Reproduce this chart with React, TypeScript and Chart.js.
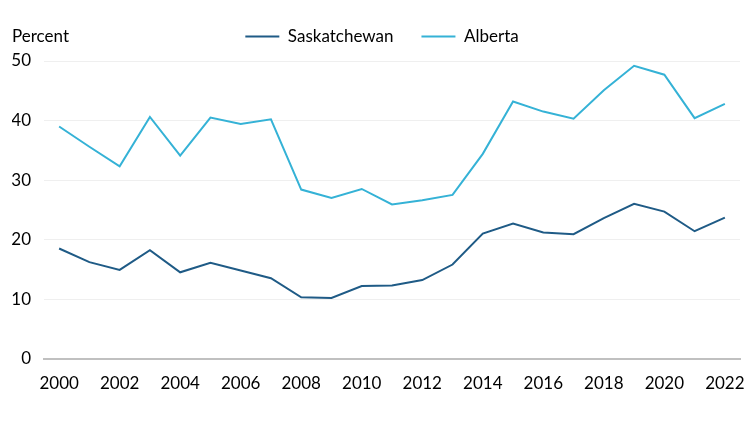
import React, { useEffect, useRef } from "react";
import { Chart, registerables } from "chart.js";

Chart.register(...registerables);

const years = [
  "2000", "2001", "2002", "2003", "2004", "2005", "2006", "2007", "2008", "2009", "2010", "2011",
  "2012", "2013", "2014", "2015", "2016", "2017", "2018", "2019", "2020", "2021", "2022",
];
const saskatchewan = [
  18.5, 16.2, 14.9, 18.2, 14.5, 16.1, 14.8, 13.5, 10.3, 10.2, 12.2, 12.3,
  13.2, 15.8, 21.0, 22.7, 21.2, 20.9, 23.6, 26.0, 24.7, 21.4, 23.7,
];
const alberta = [
  39.0, 35.6, 32.3, 40.6, 34.1, 40.5, 39.4, 40.2, 28.4, 27.0, 28.5, 25.9,
  26.6, 27.5, 34.4, 43.2, 41.5, 40.3, 45.1, 49.2, 47.7, 40.4, 42.8,
];
const yTicks = [0, 10, 20, 30, 40, 50];
const unitLabel = "Percent";

const FONT = "Lato, 'Open Sans', sans-serif";
const FS = 17;

const unitPlugin = {
  id: "unitLabel",
  beforeLayout(chart: any) {
    const lg = chart.legend;
    if (lg && !lg._fitPatched) {
      const orig = lg.fit.bind(lg);
      lg.fit = function () {
        orig();
        this.height = 61;
      };
      lg._fitPatched = true;
    }
  },
  afterLayout(chart: any) {
    const lg = chart.legend;
    if (lg) {
      lg.left += 6;
      lg.right += 6;
    }
  },
  afterDraw(chart: any) {
    const ctx = chart.ctx;
    ctx.save();
    ctx.font = `${FS}px ${FONT}`;
    ctx.fillStyle = "#000";
    ctx.textAlign = "left";
    ctx.textBaseline = "middle";
    ctx.fillText(unitLabel, 12, 37);
    ctx.restore();
  },
};

export default function App() {
  const ref = useRef<HTMLCanvasElement | null>(null);
  useEffect(() => {
    document.body.style.margin = "0";
    if (!ref.current) return;
    const chart = new Chart(ref.current, {
      type: "line",
      data: {
        labels: years,
        datasets: [
          {
            label: "Saskatchewan",
            data: saskatchewan,
            borderColor: "#1f5b86",
            backgroundColor: "#1f5b86",
            borderWidth: 2,
            pointRadius: 0,
            pointStyle: "line",
            tension: 0,
          },
          {
            label: "Alberta",
            data: alberta,
            borderColor: "#35b2d6",
            backgroundColor: "#35b2d6",
            borderWidth: 2,
            pointRadius: 0,
            pointStyle: "line",
            tension: 0,
          },
        ],
      },
      options: {
        animation: false,
        responsive: false,
        layout: { padding: { left: 12, right: 10, top: 0, bottom: 25 } },
        plugins: {
          legend: {
            position: "top",
            labels: {
              usePointStyle: true,
              pointStyle: "line",
              pointStyleWidth: 34,
              boxWidth: 34,
              padding: 28,
              color: "#000",
              font: { family: FONT, size: FS },
            },
          },
          tooltip: { enabled: false },
        },
        scales: {
          x: {
            offset: true,
            afterFit: (s: any) => {
              s.paddingLeft = 0;
              s.paddingRight = 0;
            },
            grid: {
              display: true,
              drawOnChartArea: false,
              drawTicks: true,
              tickLength: 12,
              color: "rgba(0,0,0,0)",
            },
            border: { display: true, color: "#c0c0c0", width: 2 },
            ticks: {
              autoSkip: false,
              maxRotation: 0,
              padding: 3,
              color: "#000",
              font: { family: FONT, size: FS },
              callback: (_v: any, i: number) => (i % 2 === 0 ? years[i] : ""),
            },
          },
          y: {
            min: yTicks[0],
            max: yTicks[yTicks.length - 1],
            afterBuildTicks: (axis: any) => {
              axis.ticks = yTicks.map((v) => ({ value: v }));
            },
            afterFit: (s: any) => {
              s.width = 32;
              s.paddingTop = 0;
              s.paddingBottom = 0;
            },
            grid: { color: "#efefef", drawTicks: false },
            border: { display: false },
            ticks: {
              padding: 13,
              color: "#000",
              font: { family: FONT, size: FS },
            },
          },
        },
      },
      plugins: [unitPlugin],
    });
    return () => chart.destroy();
  }, []);
  return (
    <div style={{ width: 750, height: 422 }}>
      <canvas ref={ref} width={750} height={422} style={{ width: 750, height: 422, display: "block" }} />
    </div>
  );
}
